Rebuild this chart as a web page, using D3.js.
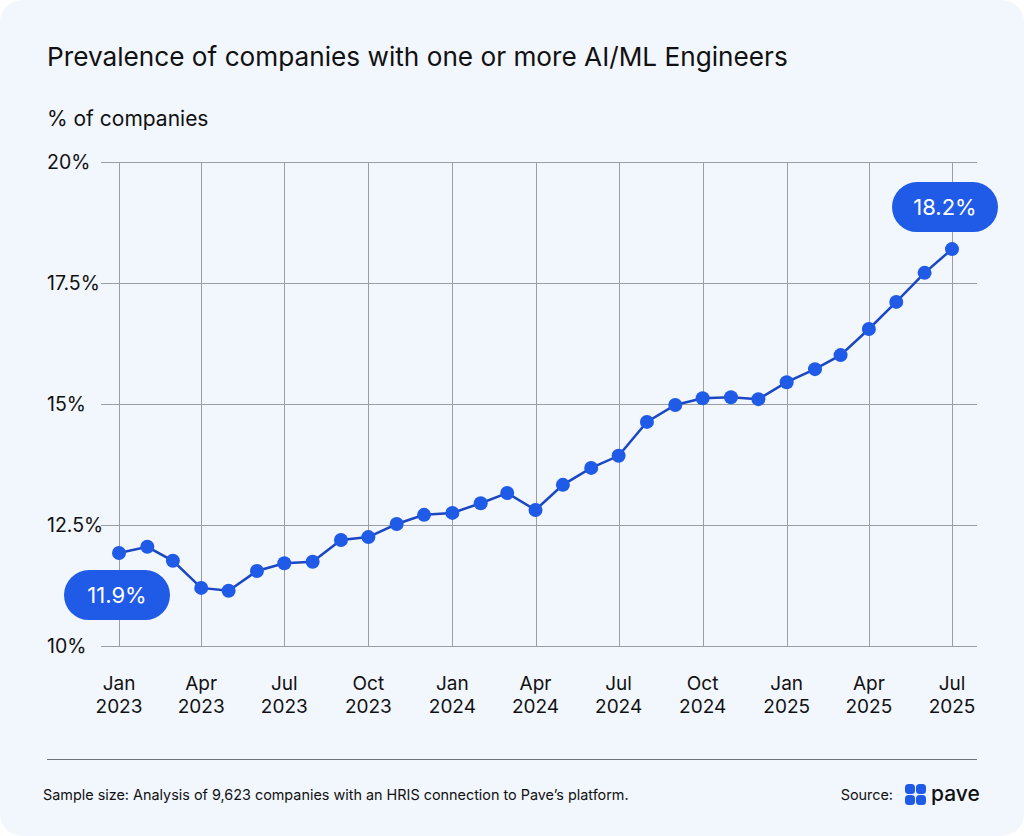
<!DOCTYPE html>
<html>
<head>
<meta charset="utf-8">
<script src="https://cdn.jsdelivr.net/npm/d3@7"></script>
<style>
  html, body { margin: 0; padding: 0; background: #ffffff; }
  svg { display: block; font-family: Inter, "Noto Sans", sans-serif; }
</style>
</head>
<body>
<svg id="chart" width="1024" height="836"></svg>
<script>
// monthly readings, Jan 2023 .. Jul 2025 (% of companies)
var months = d3.timeMonths(new Date(2023, 0, 1), new Date(2025, 7, 1));
var share = [11.92, 12.05, 11.76, 11.20, 11.14, 11.55, 11.71, 11.74, 12.19, 12.25, 12.52, 12.71,
             12.75, 12.95, 13.16, 12.81, 13.33, 13.68, 13.93, 14.63, 14.98, 15.12, 15.14, 15.10,
             15.45, 15.72, 16.01, 16.55, 17.11, 17.71, 18.20];
var yTicks = [10, 12.5, 15, 17.5, 20];
var yTickLabels = ["10%", "12.5%", "15%", "17.5%", "20%"];
var xTickMonths = d3.timeMonths(new Date(2023, 0, 1), new Date(2025, 7, 1), 3);
var callouts = [
    {i: 0, text: "11.9%", dx: -2, dy: 42},
    {i: 30, text: "18.2%", dx: -7, dy: -42}
];

var svg = d3.select("#chart");
var blue = "#1f5be6", lineBlue = "#1b47c2";

svg.append("rect")
    .attr("x", 0).attr("y", 0).attr("width", 1024).attr("height", 836)
    .attr("rx", 22)
    .attr("fill", "#f2f6fd");

svg.append("text")
    .attr("x", 47).attr("y", 66)
    .attr("font-size", 26.2).attr("fill", "#111")
    .text("Prevalence of companies with one or more AI/ML Engineers");

svg.append("text")
    .attr("x", 47).attr("y", 126)
    .attr("font-size", 21).attr("fill", "#111")
    .text("% of companies");

var x = d3.scaleTime()
    .domain([months[0], months[months.length - 1]])
    .range([119, 952]);
var y = d3.scaleLinear().domain([10, 20]).range([646, 162]);

var grid = svg.append("g").attr("stroke", "#9a9ea6").attr("stroke-width", 1);
grid.selectAll("line.h").data(yTicks).join("line")
    .attr("class", "h")
    .attr("x1", 101).attr("x2", 977)
    .attr("y1", function(d) { return y(d) + 0.5; })
    .attr("y2", function(d) { return y(d) + 0.5; });
grid.selectAll("line.v").data(xTickMonths).join("line")
    .attr("class", "v")
    .attr("x1", function(d) { return Math.round(x(d)) + 0.5; })
    .attr("x2", function(d) { return Math.round(x(d)) + 0.5; })
    .attr("y1", y(20)).attr("y2", y(10));

svg.selectAll("text.ytick").data(yTicks).join("text")
    .attr("class", "ytick")
    .attr("x", 47).attr("y", function(d) { return y(d) + 7; })
    .attr("font-size", 19.5).attr("fill", "#111")
    .text(function(d, i) { return yTickLabels[i]; });

var monFmt = d3.timeFormat("%b"), yrFmt = d3.timeFormat("%Y");
var xl = svg.selectAll("text.xtick").data(xTickMonths).join("text")
    .attr("class", "xtick")
    .attr("text-anchor", "middle")
    .attr("font-size", 19).attr("fill", "#111");
xl.append("tspan")
    .attr("x", function(d) { return x(d); }).attr("y", 690)
    .text(function(d) { return monFmt(d); });
xl.append("tspan")
    .attr("x", function(d) { return x(d); }).attr("y", 713)
    .text(function(d) { return yrFmt(d); });

var line = d3.line()
    .x(function(d, i) { return x(months[i]); })
    .y(function(d) { return y(d); });
svg.append("path")
    .datum(share)
    .attr("d", line)
    .attr("fill", "none")
    .attr("stroke", lineBlue)
    .attr("stroke-width", 2.5);

svg.selectAll("circle.pt").data(share).join("circle")
    .attr("class", "pt")
    .attr("cx", function(d, i) { return x(months[i]); })
    .attr("cy", function(d) { return y(d); })
    .attr("r", 7)
    .attr("fill", blue);

var pill = svg.selectAll("g.callout").data(callouts).join("g")
    .attr("class", "callout")
    .attr("transform", function(d) {
        return "translate(" + (x(months[d.i]) + d.dx) + "," + (y(share[d.i]) + d.dy) + ")";
    });
pill.append("rect")
    .attr("x", -53).attr("y", -25).attr("width", 106).attr("height", 50)
    .attr("rx", 25)
    .attr("fill", blue);
pill.append("text")
    .attr("text-anchor", "middle").attr("y", 8)
    .attr("font-size", 22).attr("fill", "#fff")
    .text(function(d) { return d.text; });

svg.append("line")
    .attr("x1", 47).attr("x2", 977).attr("y1", 759.5).attr("y2", 759.5)
    .attr("stroke", "#6f737a").attr("stroke-width", 1.2);

svg.append("text")
    .attr("x", 43).attr("y", 800)
    .attr("font-size", 14.4).attr("fill", "#111")
    .text("Sample size: Analysis of 9,623 companies with an HRIS connection to Pave\u2019s platform.");

svg.append("text")
    .attr("x", 893).attr("y", 800)
    .attr("text-anchor", "end")
    .attr("font-size", 14.4).attr("fill", "#111")
    .text("Source:");

// pave logo: four rounded squares + wordmark
var logo = svg.append("g").attr("transform", "translate(905,784)");
[[0, 0], [11, 0], [0, 11], [11, 11]].forEach(function(p) {
    logo.append("rect")
        .attr("x", p[0]).attr("y", p[1]).attr("width", 10).attr("height", 10)
        .attr("rx", 3.5).attr("fill", blue);
});
svg.append("text")
    .attr("x", 931).attr("y", 801)
    .attr("font-size", 21).attr("font-weight", 500).attr("fill", "#111")
    .text("pave");
</script>
</body>
</html>
